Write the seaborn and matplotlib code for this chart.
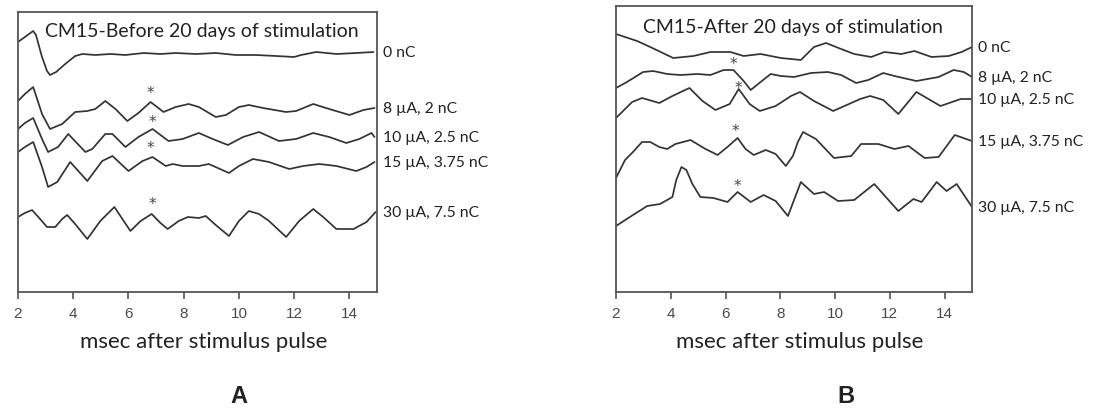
import numpy as np
import pandas as pd
import matplotlib
matplotlib.use("Agg")
import matplotlib.pyplot as plt
import seaborn as sns

sns.set_style("ticks")
plt.rcParams['font.family'] = ['Lato', 'DejaVu Sans']

trace_labels = ["0 nC", "8 µA, 2 nC", "10 µA, 2.5 nC", "15 µA, 3.75 nC", "30 µA, 7.5 nC"]
x_ticks = [2, 4, 6, 8, 10, 12, 14]

# ---- Panel A (before stimulation); x in ms, y in stacked trace units ----
a0_x = [2.00, 2.25, 2.55, 2.65, 2.87, 3.05, 3.16, 3.38, 3.71, 4.07, 4.33, 4.80, 5.35, 5.89, 6.55, 7.16, 7.71, 8.44, 9.16, 9.89, 10.62, 11.35, 12.00, 12.25, 12.80, 13.53, 14.25, 14.87]
a0_y = [250, 255, 261, 257, 235, 221, 217, 220, 228, 236, 238, 237, 238, 237, 239, 238, 239, 238, 239, 237, 237, 236, 235, 237, 240, 238, 239, 240]
a1_x = [2.00, 2.25, 2.55, 2.87, 3.16, 3.60, 4.07, 4.51, 4.80, 5.16, 5.53, 5.96, 6.36, 6.80, 7.27, 7.71, 8.18, 8.55, 9.16, 9.53, 10.00, 10.36, 10.87, 11.71, 12.07, 12.69, 13.27, 14.00, 14.51, 14.91]
a1_y = [191, 198, 205, 178, 163, 168, 180, 181, 183, 191, 183, 171, 179, 190, 180, 185, 188, 185, 175, 177, 185, 187, 184, 180, 181, 188, 183, 177, 182, 184]
a2_x = [2.00, 2.25, 2.55, 2.87, 3.09, 3.45, 3.82, 4.44, 4.69, 5.16, 5.42, 5.89, 6.36, 6.87, 7.45, 7.96, 8.55, 9.05, 9.60, 10.15, 10.73, 11.45, 12.07, 12.69, 13.27, 13.89, 14.36, 14.80, 14.91]
a2_y = [163, 169, 174, 153, 140, 145, 158, 140, 143, 158, 158, 145, 155, 163, 151, 153, 159, 153, 147, 155, 160, 151, 153, 159, 155, 149, 153, 159, 155]
a3_x = [2.00, 2.25, 2.55, 2.87, 3.09, 3.42, 3.89, 4.51, 5.05, 5.42, 6.00, 6.51, 6.87, 7.35, 7.60, 7.96, 8.55, 8.91, 9.64, 10.00, 10.51, 11.09, 11.82, 12.33, 12.91, 13.53, 14.25, 14.62, 14.91]
a3_y = [140, 145, 150, 125, 105, 110, 130, 111, 131, 136, 121, 131, 135, 126, 128, 126, 126, 128, 119, 126, 133, 130, 123, 126, 128, 126, 121, 125, 130]
a4_x = [2.00, 2.25, 2.51, 2.80, 3.05, 3.35, 3.60, 3.78, 4.07, 4.51, 4.98, 5.49, 5.78, 6.07, 6.44, 6.84, 7.16, 7.42, 7.82, 8.15, 8.55, 8.80, 9.16, 9.64, 10.00, 10.36, 10.73, 11.09, 11.71, 12.18, 12.69, 13.05, 13.53, 14.15, 14.62, 14.95]
a4_y = [75, 79, 82, 73, 65, 65, 73, 77, 68, 53, 71, 85, 73, 61, 71, 78, 69, 63, 71, 75, 74, 76, 67, 56, 71, 81, 78, 71, 55, 71, 83, 75, 63, 63, 70, 80]
a_star_x = [6.80, 6.87, 6.80, 6.87]
a_star_y = [199, 170, 144, 88]

# ---- Panel B (after stimulation) ----
b0_x = [2.00, 2.77, 3.25, 4.09, 4.83, 5.45, 6.18, 6.66, 7.28, 8.02, 8.75, 9.23, 9.67, 10.22, 10.70, 11.32, 11.80, 12.42, 12.90, 13.52, 14.15, 14.62, 15.00]
b0_y = [258, 251, 245, 234, 236, 240, 240, 236, 238, 234, 232, 245, 249, 243, 238, 235, 240, 238, 241, 235, 236, 240, 245]
b1_x = [2.00, 2.40, 2.99, 3.36, 3.87, 4.35, 4.97, 5.45, 5.93, 6.29, 6.66, 6.92, 7.28, 7.65, 8.02, 8.50, 9.12, 9.74, 10.22, 10.77, 11.21, 11.76, 12.17, 12.97, 13.78, 14.33, 14.70, 15.00]
b1_y = [204, 210, 220, 221, 218, 217, 218, 217, 222, 222, 211, 202, 210, 218, 216, 215, 219, 220, 217, 209, 212, 219, 216, 211, 215, 222, 220, 215]
b2_x = [2.00, 2.59, 2.95, 3.58, 4.06, 4.68, 5.16, 5.63, 6.15, 6.48, 6.88, 7.25, 7.83, 8.39, 8.72, 9.23, 9.93, 10.92, 11.28, 11.76, 12.31, 12.97, 13.85, 14.59, 15.00]
b2_y = [174, 190, 194, 189, 196, 204, 191, 182, 188, 203, 188, 181, 186, 196, 200, 191, 181, 193, 196, 192, 178, 200, 186, 193, 193]
b3_x = [2.00, 2.33, 2.62, 2.95, 3.25, 3.58, 3.87, 4.17, 4.72, 5.27, 5.71, 6.07, 6.44, 6.73, 7.03, 7.47, 7.83, 8.20, 8.46, 8.64, 8.83, 9.30, 9.96, 10.59, 10.95, 11.58, 12.17, 12.68, 13.27, 13.78, 14.37, 15.00]
b3_y = [114, 132, 140, 150, 150, 145, 143, 148, 152, 143, 137, 145, 154, 143, 137, 142, 138, 126, 136, 150, 160, 153, 134, 136, 148, 148, 143, 146, 134, 135, 157, 151]
b4_x = [2.00, 2.62, 3.14, 3.61, 4.06, 4.20, 4.39, 4.57, 4.79, 5.08, 5.56, 6.07, 6.44, 6.92, 7.39, 7.83, 8.28, 8.75, 9.23, 9.60, 10.11, 10.70, 11.43, 12.31, 12.86, 13.16, 13.71, 14.07, 14.44, 15.00]
b4_y = [66, 77, 86, 88, 95, 112, 125, 122, 108, 95, 94, 90, 100, 90, 97, 91, 76, 110, 98, 100, 91, 92, 108, 81, 93, 90, 110, 101, 108, 85]
b_star_x = [6.29, 6.48, 6.37, 6.44]
b_star_y = [228, 205, 161, 106]

panel_titles = ["CM15-Before 20 days of stimulation", "CM15-After 20 days of stimulation"]
panel_letters = ["A", "B"]
x_label = "msec after stimulus pulse"


def make_df(xs, ys):
    frames = []
    for i, (x, y) in enumerate(zip(xs, ys)):
        frames.append(pd.DataFrame({"ms": x, "v": y, "trace": trace_labels[i]}))
    return pd.concat(frames, ignore_index=True)


dfA = make_df([a0_x, a1_x, a2_x, a3_x, a4_x], [a0_y, a1_y, a2_y, a3_y, a4_y])
dfB = make_df([b0_x, b1_x, b2_x, b3_x, b4_x], [b0_y, b1_y, b2_y, b3_y, b4_y])

W, H = 1093, 410
fig = plt.figure(figsize=(W / 100, H / 100), dpi=100)

line_col = "#333333"
spine_col = "#555555"

panels = [
    dict(df=dfA, rect=(18, 13, 377, 293), ylim=(0, 280), sx=a_star_x, sy=a_star_y,
         title_xy=(45, 32), label_x=383, letter_x=239),
    dict(df=dfB, rect=(616, 7, 972, 293), ylim=(0, 286), sx=b_star_x, sy=b_star_y,
         title_xy=(643, 27), label_x=978, letter_x=846),
]

for k, p in enumerate(panels):
    l, t, r, b = p["rect"]
    ax = fig.add_axes([l / W, 1 - b / H, (r - l) / W, (b - t) / H])
    sns.lineplot(data=p["df"], x="ms", y="v", units="trace", estimator=None,
                 sort=False, color=line_col, lw=1.25, ax=ax, legend=False)
    for ln in ax.get_lines():
        ln.set_solid_joinstyle("round")
        ln.set_solid_capstyle("round")
    ax.set_xlim(2, 15)
    ax.set_ylim(*p["ylim"])
    ax.set_yticks([])
    ax.set_ylabel("")
    ax.set_xlabel("")
    ax.set_xticks(x_ticks)
    ax.tick_params(axis="x", direction="out", length=5, width=1.2, color=spine_col,
                   labelsize=11, labelcolor="#4a4a4a", pad=5)
    for lab in ax.get_xticklabels():
        lab.set_fontfamily(["Liberation Sans", "DejaVu Sans"])
    for s in ax.spines.values():
        s.set_visible(True)
        s.set_color(spine_col)
        s.set_linewidth(1.3)
    # asterisks
    for xs, ys in zip(p["sx"], p["sy"]):
        ax.text(xs, ys, "*", ha="center", va="center", fontsize=11, color="#444444",
                family=["DejaVu Sans"])
    # title inside
    tx, ty = p["title_xy"]
    fig.text(tx / W, 1 - ty / H, panel_titles[k], ha="left", va="center",
             fontsize=14, color="#222222")
    # right-side trace labels
    for i, trace in enumerate(trace_labels):
        yend = p["df"][p["df"]["trace"] == trace]["v"].iloc[-1]
        ax.annotate(trace, xy=(1, yend), xycoords=("axes fraction", "data"),
                    xytext=(p["label_x"] - r, 0), textcoords="offset pixels",
                    ha="left", va="center", fontsize=11.3, color="#222222",
                    annotation_clip=False)
    # x label & panel letter
    fig.text(((l + r) / 2 + 6) / W, 1 - 342 / H, x_label, ha="center", va="center",
             fontsize=16, color="#222222")
    fig.text(p["letter_x"] / W, 1 - 397 / H, panel_letters[k], ha="center", va="center",
             fontsize=17, fontweight="bold", color="#222222",
             family=["Liberation Sans", "DejaVu Sans"])

fig.savefig("out.png", dpi=100)
